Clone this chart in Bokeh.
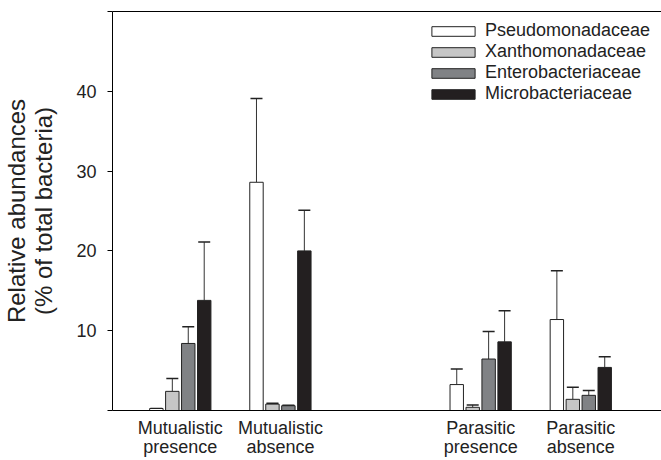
import numpy as np
from bokeh.plotting import figure
from bokeh.models import LinearAxis, Whisker, ColumnDataSource, FixedTicker, Range1d, Legend, LegendItem
from bokeh.embed import file_html
from bokeh.resources import INLINE

# ---- data ----
groups = ["Mutualistic\npresence", "Mutualistic\nabsence", "Parasitic\npresence", "Parasitic\nabsence"]
group_pos = [1, 2, 4, 5]
families = ["Pseudomonadaceae", "Xanthomonadaceae", "Enterobacteriaceae", "Microbacteriaceae"]
pseudo = [0.25, 28.6, 3.25, 11.4]
pseudo_err = [0.0, 10.5, 1.95, 6.1]
xantho = [2.4, 0.8, 0.4, 1.4]
xantho_err = [1.6, 0.1, 0.3, 1.5]
entero = [8.4, 0.6, 6.45, 1.9]
entero_err = [2.1, 0.05, 3.45, 0.6]
micro = [13.8, 20.0, 8.6, 5.4]
micro_err = [7.3, 5.1, 3.9, 1.35]
y_ticks = [0, 10, 20, 30, 40, 50]

values = [pseudo, xantho, entero, micro]
errors = [pseudo_err, xantho_err, entero_err, micro_err]
colors = ["#ffffff", "#c6c6c6", "#808285", "#231f20"]
offsets = [-0.239, -0.0796, 0.0796, 0.239]
bar_w = 0.134
FONT = "Liberation Sans"
TXT = "#222222"

p = figure(width=661, height=460, output_backend="svg", toolbar_location=None,
           x_range=Range1d(0.323, 5.806), y_range=Range1d(0, 50),
           min_border_left=110, min_border_right=0, min_border_top=11, min_border_bottom=50)
p.xgrid.visible = False
p.ygrid.visible = False
p.outline_line_color = None
p.background_fill_color = "white"
p.border_fill_color = "white"

renderers = []
for vals, errs, col, off, name in zip(values, errors, colors, offsets, families):
    x = np.array(group_pos, dtype=float) + off
    v = np.array(vals, dtype=float)
    e = np.array(errs, dtype=float)
    src = ColumnDataSource(dict(x=x, top=v, upper=v + e))
    r = p.vbar(x="x", top="top", width=bar_w, source=src, fill_color=col,
               line_color="#222222", line_width=1)
    renderers.append((name, r))
    w = Whisker(base="x", lower="top", upper="upper", source=src, dimension="height",
                line_color="#333333", line_width=1, lower_head=None)
    w.upper_head.size = 12
    w.upper_head.line_color = "#222222"
    w.upper_head.line_width = 1.5
    p.add_layout(w)

# y axis
yax = p.yaxis[0]
yax.ticker = FixedTicker(ticks=y_ticks)
yax.major_label_overrides = {0: "", 50: ""}
yax.minor_tick_line_color = None
yax.major_tick_out = 5
yax.major_tick_in = 0
yax.axis_line_color = "black"
yax.major_tick_line_color = "black"
yax.major_label_text_font = FONT
yax.major_label_text_font_size = "18px"
yax.major_label_text_color = TXT
yax.major_label_standoff = 11
yax.axis_label = "Relative abundances\n(% of total bacteria)"
yax.axis_label_text_font = FONT
yax.axis_label_text_font_size = "24px"
yax.axis_label_text_font_style = "normal"
yax.axis_label_text_color = TXT
yax.axis_label_text_line_height = 1.0
yax.axis_label_standoff = 16

# x axis
xax = p.xaxis[0]
xax.ticker = FixedTicker(ticks=group_pos)
xax.major_label_overrides = {pos: g for pos, g in zip(group_pos, groups)}
xax.minor_tick_line_color = None
xax.major_tick_line_color = None
xax.major_tick_out = 0
xax.major_tick_in = 0
xax.axis_line_color = "black"
xax.major_label_text_font = FONT
xax.major_label_text_font_size = "18px"
xax.major_label_text_color = TXT
xax.major_label_text_line_height = 0.95
xax.major_label_standoff = 7

# top border line
top = LinearAxis(ticker=FixedTicker(ticks=[]), major_tick_out=0, major_tick_in=0,
                 minor_tick_line_color=None, major_label_text_font_size="0px",
                 major_label_standoff=0, axis_line_color="black")
p.add_layout(top, "above")

legend = Legend(items=[LegendItem(label=n, renderers=[r]) for n, r in renderers],
                location=(314, 306), glyph_width=54, glyph_height=12,
                label_text_font=FONT, label_text_font_size="18px", label_text_color=TXT,
                label_text_line_height=1.0,
                label_height=18, spacing=-2, padding=0, margin=0, label_standoff=5,
                border_line_color=None, background_fill_alpha=0)
p.add_layout(legend, "center")

open("out.html", "w").write(file_html(p, INLINE))
